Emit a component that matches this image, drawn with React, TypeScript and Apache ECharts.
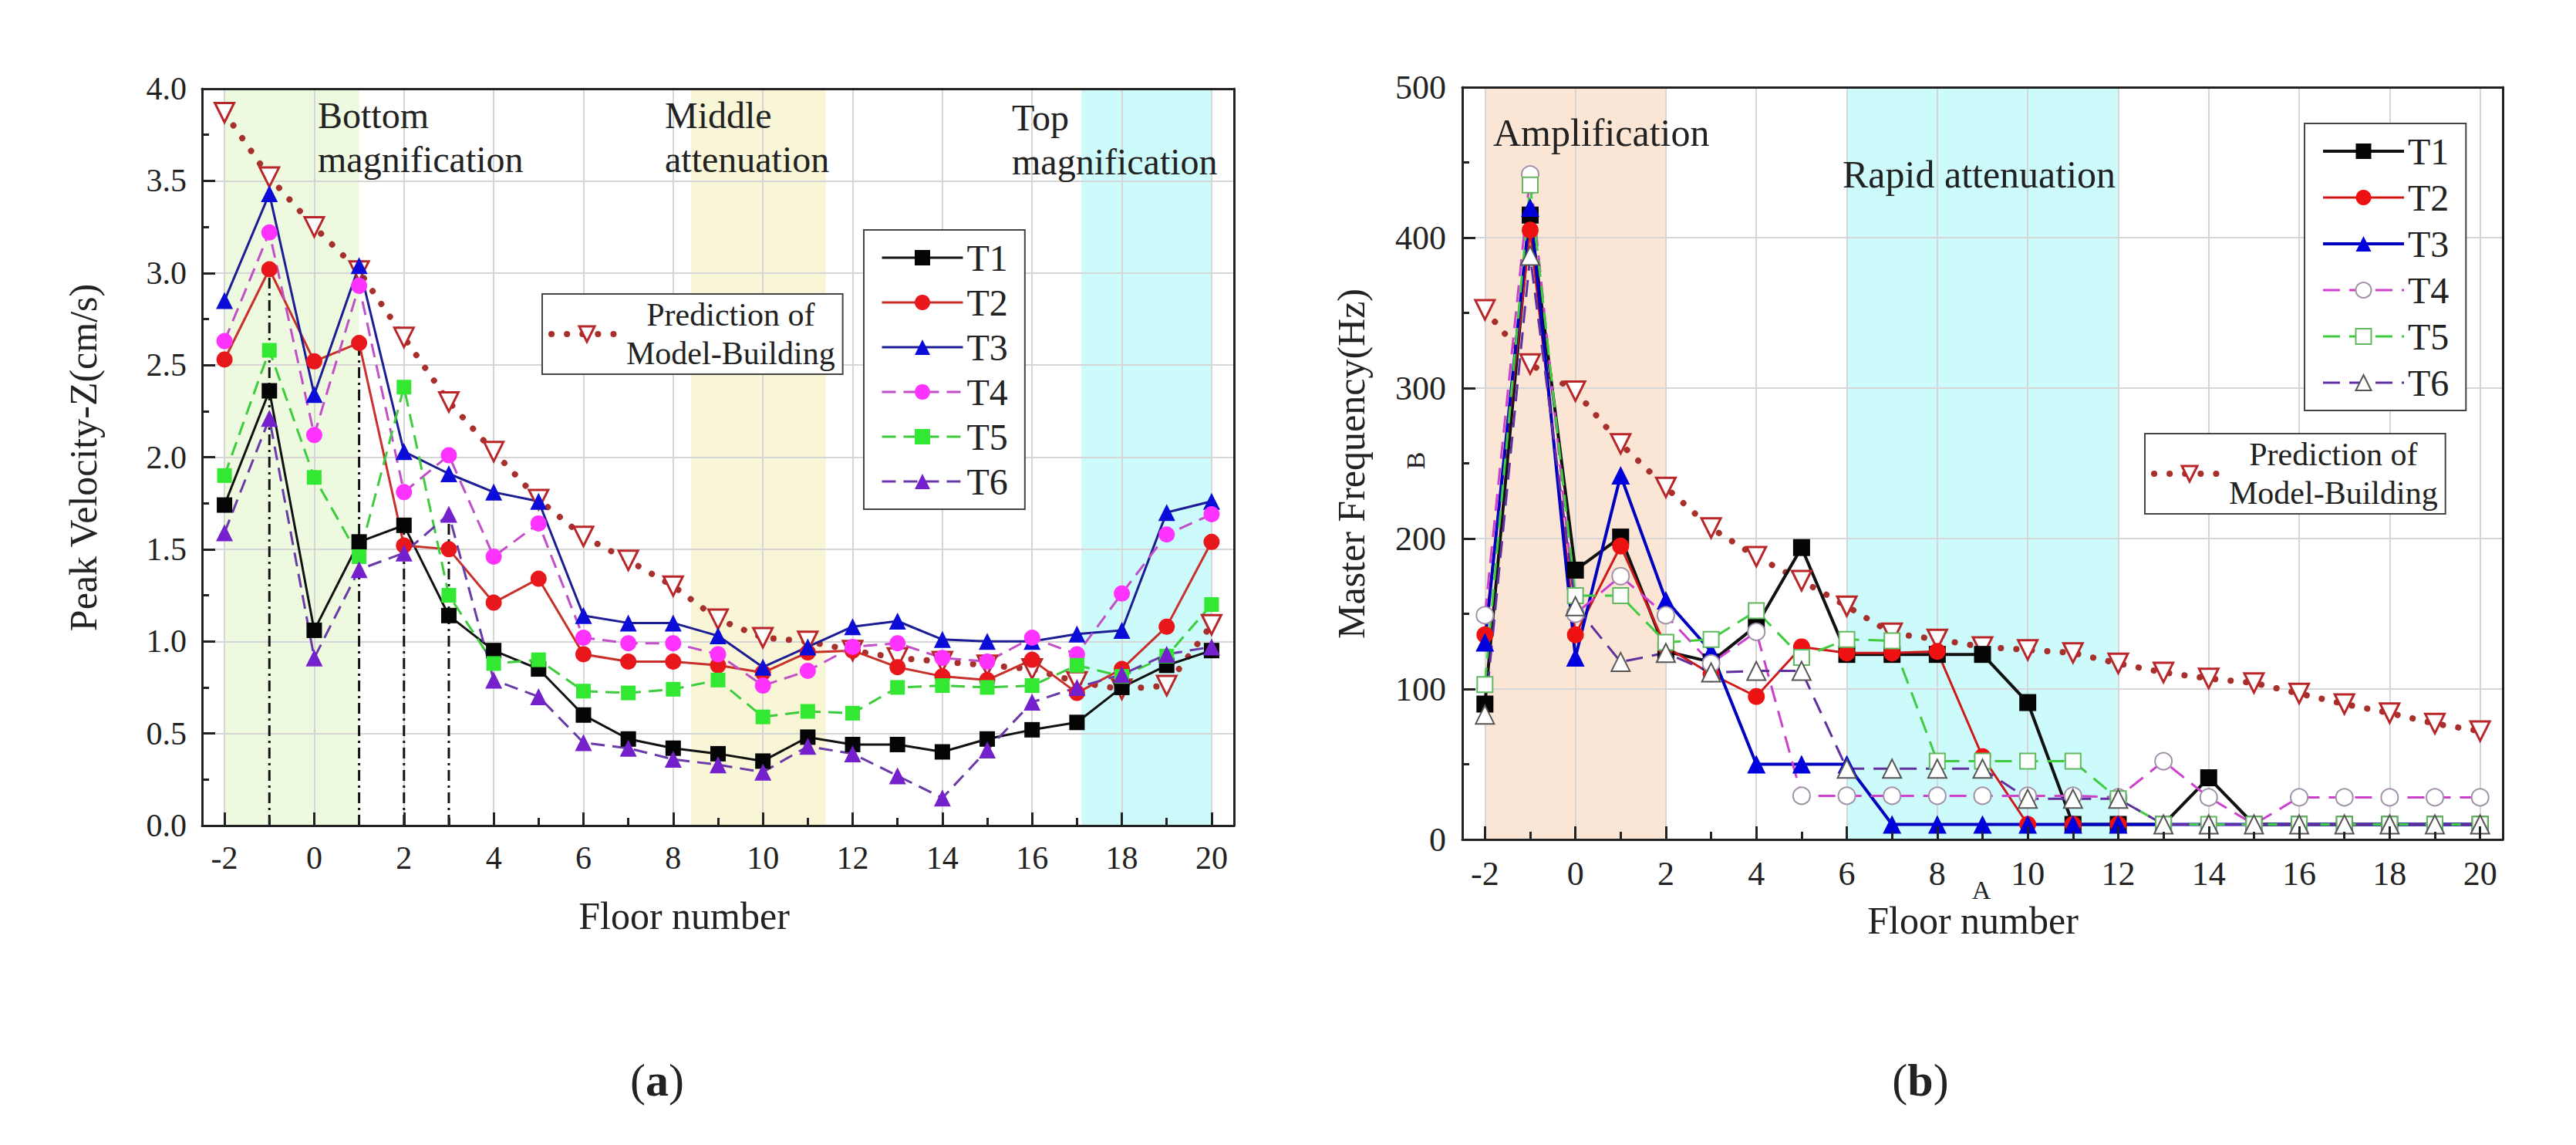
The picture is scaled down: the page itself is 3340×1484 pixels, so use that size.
import React, { useEffect, useRef } from "react";
import * as echarts from "echarts";

// ---------- data ----------
const floors = [-2, -1, 0, 1, 2, 3, 4, 5, 6, 7, 8, 9, 10, 11, 12, 13, 14, 15, 16, 17, 18, 19, 20];
const xMajorTicks = [-2, 0, 2, 4, 6, 8, 10, 12, 14, 16, 18, 20];
const xMinorTicks = [-1, 1, 3, 5, 7, 9, 11, 13, 15, 17, 19];
const seriesNames = ["T1", "T2", "T3", "T4", "T5", "T6"];
const predictionName = "Prediction of\nModel-Building";

// (a) Peak Velocity-Z (cm/s)
const velocityT1 = [1.74, 2.36, 1.06, 1.54, 1.63, 1.14, 0.95, 0.85, 0.6, 0.47, 0.42, 0.39, 0.35, 0.48, 0.44, 0.44, 0.4, 0.47, 0.52, 0.56, 0.75, 0.87, 0.95];
const velocityT2 = [2.53, 3.02, 2.52, 2.62, 1.52, 1.5, 1.21, 1.34, 0.93, 0.89, 0.89, 0.87, 0.83, 0.94, 0.95, 0.86, 0.81, 0.79, 0.9, 0.72, 0.85, 1.08, 1.54];
const velocityT3 = [2.85, 3.43, 2.34, 3.04, 2.03, 1.91, 1.81, 1.76, 1.14, 1.1, 1.1, 1.03, 0.86, 0.97, 1.08, 1.11, 1.01, 1.0, 1.0, 1.04, 1.06, 1.7, 1.76];
const velocityT4 = [2.63, 3.22, 2.12, 2.93, 1.81, 2.01, 1.46, 1.64, 1.02, 0.99, 0.99, 0.93, 0.76, 0.84, 0.97, 0.99, 0.91, 0.89, 1.02, 0.93, 1.26, 1.58, 1.69];
const velocityT5 = [1.9, 2.58, 1.89, 1.46, 2.38, 1.25, 0.88, 0.9, 0.73, 0.72, 0.74, 0.79, 0.59, 0.62, 0.61, 0.75, 0.76, 0.75, 0.76, 0.87, 0.81, 0.92, 1.2];
const velocityT6 = [1.59, 2.21, 0.91, 1.39, 1.48, 1.69, 0.79, 0.7, 0.45, 0.42, 0.36, 0.33, 0.29, 0.43, 0.39, 0.27, 0.15, 0.41, 0.67, 0.75, 0.82, 0.93, 0.97];
const velocityPrediction = [3.87, 3.52, 3.25, 3.01, 2.65, 2.3, 2.03, 1.77, 1.57, 1.44, 1.3, 1.12, 1.02, 1.0, 0.95, 0.91, 0.89, 0.87, 0.85, 0.78, 0.74, 0.76, 1.09];
const velocityBands = [[-2, 1], [8.4, 11.4], [17.1, 20]];
const dashDotRefs = [
  { floor: -1, source: "T2" },
  { floor: 1, source: "T2" },
  { floor: 2, source: "T1" },
  { floor: 3, source: "T6" },
];

// (b) Master Frequency (Hz)
const frequencyT1 = [90, 415, 179, 201, 125, 118, 142, 194, 123, 123, 123, 123, 91, 10, 10, 10, 41, 10, 10, 10, 10, 10, 10];
const frequencyT2 = [136, 405, 136, 195, 128, 110, 95, 128, 124, 124, 125, 55, 10, 10, 10, 10, 10, 10, 10, 10, 10, 10, 10];
const frequencyT3 = [131, 420, 121, 242, 159, 125, 50, 50, 50, 10, 10, 10, 10, 10, 10, 10, 10, 10, 10, 10, 10, 10, 10];
const frequencyT4 = [149, 442, 150, 175, 149, 117, 138, 29, 29, 29, 29, 29, 29, 29, 28, 52, 28, 10, 28, 28, 28, 28, 28];
const frequencyT5 = [103, 435, 162, 162, 131, 133, 152, 121, 133, 132, 52, 52, 52, 52, 27, 10, 10, 10, 10, 10, 10, 10, 10];
const frequencyT6 = [83, 388, 155, 118, 124, 111, 112, 112, 47, 47, 47, 47, 27, 27, 27, 10, 10, 10, 10, 10, 10, 10, 10];
const frequencyPrediction = [352, 316, 298, 263, 234, 207, 188, 172, 155, 137, 133, 128, 126, 124, 117, 111, 107, 104, 97, 90, 84, 77, 72];
const frequencyBands = [[-2, 2], [6, 12]];

// ---------- styles ----------
const FONT = '"Liberation Serif", "Times New Roman", Times, serif';
const INK = "#222";
const GRID_LINE = "#d6d6d6";

const velocityStyles: any = {
  T1: { symbol: "rect", size: 20, fill: "#050505", line: "#111111", width: 3, type: "solid" },
  T2: { symbol: "circle", size: 21, fill: "#e8171c", line: "#c9302c", width: 3, type: "solid" },
  T3: { symbol: "triangle", size: 22, fill: "#0c0cd8", line: "#1c1c94", width: 3, type: "solid" },
  T4: { symbol: "circle", size: 21, fill: "#ff33ff", line: "#c24fc8", width: 3, type: [18, 10] },
  T5: { symbol: "rect", size: 19, fill: "#33e833", line: "#3ccc3c", width: 3, type: [18, 10] },
  T6: { symbol: "triangle", size: 22, fill: "#7420cc", line: "#6a3aa8", width: 3, type: [18, 10] },
  P: { symbol: "triangle", size: 25, rotate: 180, fill: "#ffffff", border: "#b8262a", borderWidth: 3, line: "#a8302c", width: 8, type: [0.1, 20], cap: "round" },
};
const velocityBandColors = ["#eefadf", "#f8f6d6", "#cdfafa"];

const frequencyStyles: any = {
  T1: { symbol: "rect", size: 22, fill: "#050505", line: "#111111", width: 4, type: "solid" },
  T2: { symbol: "circle", size: 22, fill: "#ee1111", line: "#d01818", width: 3, type: "solid" },
  T3: { symbol: "triangle", size: 24, fill: "#0000dd", line: "#0000c0", width: 4, type: "solid" },
  T4: { symbol: "circle", size: 22, fill: "#ffffff", border: "#a090a8", borderWidth: 2, line: "#cc40cc", width: 3, type: [22, 12] },
  T5: { symbol: "rect", size: 20, fill: "#ffffff", border: "#60b860", borderWidth: 2, line: "#40cc40", width: 3, type: [22, 12] },
  T6: { symbol: "triangle", size: 24, fill: "#ffffff", border: "#555555", borderWidth: 2, line: "#6030a0", width: 3, type: [22, 12] },
  P: { symbol: "triangle", size: 25, rotate: 180, fill: "#ffffff", border: "#b8262a", borderWidth: 3, line: "#a8302c", width: 8, type: [0.1, 20], cap: "round" },
};
const frequencyBandColors = ["#fbe6d6", "#cdfafb"];

// ---------- builders ----------
function lineSeries(name: string, values: number[], st: any) {
  return {
    type: "line",
    name,
    z: 5,
    xAxisIndex: 0,
    yAxisIndex: 0,
    data: floors.map((f, i) => [f, values[i]]),
    symbol: st.symbol,
    symbolSize: st.size,
    symbolRotate: st.rotate || 0,
    lineStyle: { color: st.line, width: st.width, type: st.type, cap: st.cap || "butt" },
    itemStyle: { color: st.fill, borderColor: st.border || st.fill, borderWidth: st.borderWidth || 0 },
    emphasis: { disabled: true },
    silent: true,
  };
}

function bandSeries(bands: number[][], colors: string[]) {
  return {
    type: "line",
    name: "bands",
    z: 1,
    xAxisIndex: 0,
    yAxisIndex: 0,
    data: [],
    silent: true,
    markArea: {
      silent: true,
      data: bands.map((b, i) => [
        { xAxis: b[0], itemStyle: { color: colors[i], opacity: 1 } },
        { xAxis: b[1] },
      ]),
    },
  };
}

function axes(p: any) {
  const frame = { color: INK, width: 3 };
  const xc = { type: "value", min: -2.5, max: 20.5, gridIndex: 0 };
  const yc = { type: "value", min: 0, max: p.yMax, interval: p.yInterval, gridIndex: 0 };
  const xAxis = [
    {
      ...xc, position: "bottom", z: 10,
      axisLine: { show: true, onZero: false, lineStyle: frame },
      axisTick: { show: true, inside: true, length: 17, customValues: xMajorTicks, lineStyle: frame },
      axisLabel: { show: true, customValues: xMajorTicks, margin: p.xMargin, fontSize: p.tickSize, fontFamily: FONT, color: INK },
      splitLine: { show: false },
    },
    {
      ...xc, position: "bottom", z: 2,
      axisLine: { show: false },
      axisTick: { show: false, customValues: xMajorTicks },
      axisLabel: { show: false },
      splitLine: { show: true, lineStyle: { color: GRID_LINE, width: 2 } },
    },
    {
      ...xc, position: "bottom", z: 10,
      axisLine: { show: false },
      axisTick: { show: true, inside: true, length: 10, customValues: xMinorTicks, lineStyle: frame },
      axisLabel: { show: false },
      splitLine: { show: false },
    },
    {
      ...xc, position: "top", z: 10,
      axisLine: { show: true, onZero: false, lineStyle: frame },
      axisTick: { show: false },
      axisLabel: { show: false },
      splitLine: { show: false },
    },
  ];
  const yAxis = [
    {
      ...yc, position: "left", z: 10,
      axisLine: { show: true, onZero: false, lineStyle: frame },
      axisTick: { show: true, inside: true, length: 17, lineStyle: frame },
      minorTick: { show: true, splitNumber: 2, length: 9, lineStyle: frame },
      axisLabel: { show: true, margin: p.yMargin, fontSize: p.tickSize, fontFamily: FONT, color: INK, formatter: p.yFormatter },
      splitLine: { show: false },
    },
    {
      ...yc, position: "left", z: 2,
      axisLine: { show: false },
      axisTick: { show: false },
      axisLabel: { show: false },
      splitLine: { show: true, lineStyle: { color: GRID_LINE, width: 2 } },
    },
    {
      ...yc, position: "right", z: 10,
      axisLine: { show: true, onZero: false, lineStyle: frame },
      axisTick: { show: false },
      axisLabel: { show: false },
      splitLine: { show: false },
    },
  ];
  return { xAxis, yAxis };
}

function legends(p: any) {
  return [
    {
      data: seriesNames,
      orient: "vertical",
      left: p.tLeft,
      top: p.tTop,
      z: 20,
      itemWidth: 105,
      itemHeight: 25,
      itemGap: p.tGap,
      padding: [12, 22, 12, 22],
      backgroundColor: "#ffffff",
      borderColor: "#444",
      borderWidth: 2,
      selectedMode: false,
      textStyle: { fontSize: 48, fontFamily: FONT, color: INK },
      lineStyle: { width: "inherit" },
      itemStyle: { borderWidth: "inherit" },
    },
    {
      data: [predictionName],
      orient: "vertical",
      left: p.pLeft,
      top: p.pTop,
      z: 20,
      itemWidth: 92,
      itemHeight: 25,
      padding: [6, 10, 6, 8],
      backgroundColor: "#ffffff",
      borderColor: "#444",
      borderWidth: 2,
      selectedMode: false,
      formatter: () => "{a|Prediction of}\n{a|Model-Building}",
      textStyle: {
        fontSize: 42, fontFamily: FONT, color: INK,
        rich: { a: { fontSize: 42, fontFamily: FONT, color: INK, align: "center", lineHeight: 50 } },
      },
      lineStyle: { width: "inherit" },
      itemStyle: { borderWidth: "inherit" },
    },
  ];
}

function txt(text: string, x: number, y: number, size: number, extra: any = {}) {
  return {
    type: "text",
    x,
    y,
    z: 30,
    silent: true,
    rotation: extra.rotation || 0,
    style: {
      text,
      fill: INK,
      font: `${size}px ${FONT}`,
      lineHeight: extra.lineHeight || size * 1.2,
      align: extra.align || "left",
      textAlign: extra.align || "left",
      verticalAlign: extra.vAlign || "top",
      textVerticalAlign: extra.vAlign || "top",
      rich: extra.rich,
    },
  };
}

function panelLabel(letter: string, x: number, y: number) {
  return txt(`{p|(}{b|${letter}}{p|)}`, x, y, 60, {
    align: "center",
    vAlign: "middle",
    rich: {
      p: { fontSize: 60, fontFamily: FONT, fill: INK, color: INK },
      b: { fontSize: 60, fontFamily: FONT, fontWeight: "bold", fill: INK, color: INK },
    },
  });
}

// ---------- options ----------
const velocityData: any = { T1: velocityT1, T2: velocityT2, T3: velocityT3, T4: velocityT4, T5: velocityT5, T6: velocityT6 };
const frequencyData: any = { T1: frequencyT1, T2: frequencyT2, T3: frequencyT3, T4: frequencyT4, T5: frequencyT5, T6: frequencyT6 };

function velocityOption() {
  const { xAxis, yAxis } = axes({ yMax: 4, yInterval: 0.5, tickSize: 42, xMargin: 21, yMargin: 20, yFormatter: (v: number) => v.toFixed(1) });
  const dashDot = dashDotRefs.map((r) => ({
    type: "line",
    name: "guide",
    z: 4,
    xAxisIndex: 0,
    yAxisIndex: 0,
    silent: true,
    symbol: "none",
    data: [[r.floor, 0], [r.floor, velocityData[r.source][floors.indexOf(r.floor)]]],
    lineStyle: { color: "#111", width: 3, type: [14, 6, 3, 6] },
  }));
  return {
    animation: false,
    backgroundColor: "transparent",
    grid: [{ left: 262, top: 115, width: 1338, height: 955, show: false }],
    xAxis,
    yAxis,
    legend: legends({ tLeft: 1120, tTop: 298, tGap: 10, pLeft: 703, pTop: 381 }),
    series: [
      bandSeries(velocityBands, velocityBandColors),
      ...dashDot,
      lineSeries(predictionName, velocityPrediction, velocityStyles.P),
      ...seriesNames.map((n) => lineSeries(n, velocityData[n], velocityStyles[n])),
    ],
    graphic: [
      txt("Bottom\nmagnification", 412, 121, 48, { lineHeight: 57 }),
      txt("Middle\nattenuation", 862, 121, 48, { lineHeight: 57 }),
      txt("Top\nmagnification", 1312, 124, 48, { lineHeight: 57 }),
      txt("Peak Velocity-Z(cm/s)", 108, 593, 50, { rotation: Math.PI / 2, align: "center", vAlign: "middle" }),
      txt("Floor number", 887, 1187, 50, { align: "center", vAlign: "middle" }),
      panelLabel("a", 852, 1400),
    ],
  };
}

function frequencyOption() {
  const { xAxis, yAxis } = axes({ yMax: 500, yInterval: 100, tickSize: 44, xMargin: 22, yMargin: 21, yFormatter: (v: number) => String(v) });
  return {
    animation: false,
    backgroundColor: "transparent",
    grid: [{ left: 226, top: 113, width: 1349, height: 975, show: false }],
    xAxis,
    yAxis,
    legend: legends({ tLeft: 1318, tTop: 160, tGap: 12, pLeft: 1111, pTop: 562 }),
    series: [
      bandSeries(frequencyBands, frequencyBandColors),
      lineSeries(predictionName, frequencyPrediction, frequencyStyles.P),
      ...seriesNames.map((n) => lineSeries(n, frequencyData[n], frequencyStyles[n])),
    ],
    graphic: [
      txt("Amplification", 266, 172, 50, { vAlign: "middle" }),
      txt("Rapid attenuation", 719, 226, 50, { vAlign: "middle" }),
      txt("Master Frequency(Hz)", 82, 601, 50, { rotation: Math.PI / 2, align: "center", vAlign: "middle" }),
      txt("B", 165, 597, 34, { rotation: Math.PI / 2, align: "center", vAlign: "middle" }),
      txt("A", 899, 1153, 34, { align: "center", vAlign: "middle" }),
      txt("Floor number", 888, 1193, 50, { align: "center", vAlign: "middle" }),
      panelLabel("b", 820, 1400),
    ],
  };
}

// ---------- components ----------
function EChart({ option, style }: { option: any; style: React.CSSProperties }) {
  const ref = useRef<HTMLDivElement>(null);
  useEffect(() => {
    if (!ref.current) return;
    const chart = echarts.init(ref.current, null, { renderer: "svg" });
    chart.setOption(option);
    return () => chart.dispose();
  }, [option]);
  return <div ref={ref} style={style} />;
}

const optA = velocityOption();
const optB = frequencyOption();

export default function App() {
  return (
    <div style={{ position: "fixed", left: 0, top: 0, width: 3340, height: 1484, background: "#ffffff", overflow: "hidden" }}>
      <EChart option={optA} style={{ position: "absolute", left: 0, top: 0, width: 1670, height: 1484 }} />
      <EChart option={optB} style={{ position: "absolute", left: 1670, top: 0, width: 1670, height: 1484 }} />
    </div>
  );
}
